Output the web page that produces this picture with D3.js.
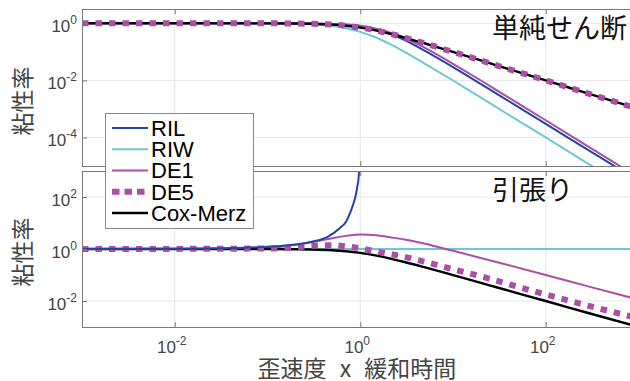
<!DOCTYPE html>
<html><head><meta charset="utf-8">
<script src="https://cdn.jsdelivr.net/npm/d3@7"></script>
<style>body{margin:0;background:#fff}svg{display:block}</style>
</head><body><svg id="c" width="630" height="381"></svg>
<script>
// ---- data ----
const rates = [0.001, 0.01, 0.1, 0.2, 0.3, 0.5, 0.7, 1, 1.5, 2, 3, 5, 10, 20, 30, 100, 300, 850];
// simple shear (top panel)
const shearRIL   = [1, 1, 0.997, 0.99, 0.975, 0.94, 0.89, 0.8, 0.6, 0.45, 0.26, 0.108, 0.029, 0.0074, 0.0033, 0.0003, 0.000033, 0.0000042];
const shearRIW   = [1, 1, 0.99, 0.96, 0.917, 0.8, 0.67, 0.5, 0.31, 0.2, 0.1, 0.038, 0.0099, 0.0025, 0.0011, 0.0001, 0.000011, 0.0000014];
const shearDE1   = [1, 1, 0.998, 0.99, 0.98, 0.95, 0.9, 0.82, 0.64, 0.5, 0.31, 0.138, 0.038, 0.0099, 0.0044, 0.0004, 0.000044, 0.0000055];
const shearDE5   = [1, 1, 0.995, 0.98, 0.958, 0.894, 0.82, 0.707, 0.555, 0.447, 0.316, 0.196, 0.0995, 0.05, 0.033, 0.01, 0.0033, 0.00118];
const shearCoxMerz = [1, 1, 0.995, 0.98, 0.958, 0.894, 0.82, 0.707, 0.555, 0.447, 0.316, 0.196, 0.0995, 0.05, 0.033, 0.01, 0.0033, 0.00118];
// extension (bottom panel)
const rilRates   = [0.001, 0.01, 0.05, 0.1, 0.2, 0.3, 0.45, 0.6, 0.7, 0.78, 0.85, 0.9, 0.93, 0.96, 0.98];
const extRIL     = [1, 1.02, 1.1, 1.22, 1.5, 1.9, 3.0, 6.3, 11, 25, 60, 130, 250, 550, 2000];
const extRIW     = [1, 1, 1, 1, 1, 1, 1, 1, 1, 1, 1, 1, 1, 1, 1, 1, 1, 1];
const extDE1     = [1, 1.005, 1.12, 1.45, 1.8, 2.6, 3.2, 3.63, 3.4, 2.9, 2.3, 1.6, 0.85, 0.45, 0.31, 0.1, 0.035, 0.0132];
const extDE5     = [1, 1.01, 1.05, 1.15, 1.32, 1.4, 1.26, 1.07, 0.8, 0.66, 0.5, 0.32, 0.166, 0.089, 0.059, 0.0178, 0.0063, 0.0025];
const extCoxMerz = [1, 1, 0.995, 0.98, 0.958, 0.894, 0.82, 0.707, 0.555, 0.447, 0.316, 0.196, 0.0995, 0.05, 0.033, 0.01, 0.0033, 0.00118];

const seriesNames = ["RIL", "RIW", "DE1", "DE5", "Cox-Merz"];
const xTicks = [1e-2, 1, 1e2];
const xTickExp = ["-2", "0", "2"];
const yTopTicks = [1e-4, 1e-2, 1];
const yTopExp = ["-4", "-2", "0"];
const yBotTicks = [1e-2, 1, 1e2];
const yBotExp = ["-2", "0", "2"];
const panelTitles = ["単純せん断", "引張り"];
const yLabel = "粘性率";
const xLabel = "歪速度 x 緩和時間";

// ---- styles ----
const styles = {
  "RIL": {color: "#2443a3", width: 2, dash: null},
  "RIW": {color: "#6cc8d6", width: 2, dash: null},
  "DE1": {color: "#a950a6", width: 2, dash: null},
  "DE5": {color: "#a950a6", width: 6, dash: "6.5,7"},
  "Cox-Merz": {color: "#000000", width: 2.4, dash: null}
};
const axisColor = "#7a7a7a", gridColor = "#e6e6e6", textColor = "#444";
const tickFont = "'Liberation Sans', Arial, sans-serif";
const cjkFont = "'Noto Sans CJK JP', sans-serif";

const svg = d3.select("#c");
const x = d3.scaleLog().domain([1e-3, Math.pow(10, 2.93)]).range([82, 632]);
const yTop = d3.scaleLog().domain([1e-5, Math.pow(10, 0.5)]).range([166, 9]);
const yBot = d3.scaleLog().domain([1e-3, 1e3]).range([327, 171]);

function panel(id, y, yTicks, yExp, curves, title, titleY, labelY) {
  const [x0, x1] = x.range();
  const [yb, yt] = y.range();
  const g = svg.append("g");
  svg.append("clipPath").attr("id", id).append("rect")
    .attr("x", x0).attr("y", yt).attr("width", x1 - x0).attr("height", yb - yt);
  // grid
  g.selectAll(".gx").data(xTicks).join("line")
    .attr("x1", d => x(d)).attr("x2", d => x(d)).attr("y1", yt).attr("y2", yb)
    .attr("stroke", gridColor).attr("stroke-width", 1);
  g.selectAll(".gy").data(yTicks).join("line")
    .attr("y1", d => y(d)).attr("y2", d => y(d)).attr("x1", x0).attr("x2", x1)
    .attr("stroke", gridColor).attr("stroke-width", 1);
  // curves
  const cg = g.append("g").attr("clip-path", `url(#${id})`);
  curves.forEach(c => {
    const st = styles[c.name];
    const line = d3.line().x(d => x(d[0])).y(d => y(d[1])).curve(d3.curveMonotoneX);
    const pts = c.xs.map((v, i) => [v, c.ys[i]]);
    cg.append("path").attr("d", line(pts)).attr("fill", "none")
      .attr("stroke", st.color).attr("stroke-width", st.width)
      .attr("stroke-dasharray", st.dash).attr("stroke-linejoin", "round");
  });
  // axes (ticks inside)
  const ax = g.append("g").attr("transform", `translate(0,${yb})`)
    .call(d3.axisBottom(x).tickValues(xTicks).tickSizeInner(-5).tickSizeOuter(0).tickFormat(""));
  const axt = g.append("g").attr("transform", `translate(0,${yt})`)
    .call(d3.axisTop(x).tickValues(xTicks).tickSizeInner(-5).tickSizeOuter(0).tickFormat(""));
  const ay = g.append("g").attr("transform", `translate(${x0},0)`)
    .call(d3.axisLeft(y).tickValues(yTicks).tickSizeInner(-5).tickSizeOuter(0).tickFormat(""));
  [ax, axt, ay].forEach(a => { a.selectAll("path,line").attr("stroke", axisColor); a.select(".domain").remove(); });
  g.append("rect").attr("x", x0 + 0.5).attr("y", yt + 0.5).attr("width", x1 - x0).attr("height", yb - yt)
    .attr("fill", "none").attr("stroke", axisColor).attr("stroke-width", 1);
  // y tick labels
  yTicks.forEach((t, i) => {
    const tx = g.append("text").attr("x", 77).attr("y", y(t) + 9)
      .attr("text-anchor", "end").attr("fill", textColor)
      .attr("font-family", tickFont).attr("font-size", 17);
    tx.append("tspan").text("10");
    tx.append("tspan").attr("dy", -8).attr("font-size", 12).text(yExp[i]);
  });
  // y label
  g.append("text").attr("transform", `translate(31,${labelY}) rotate(-90)`)
    .attr("text-anchor", "middle").attr("fill", textColor)
    .attr("font-family", cjkFont).attr("font-size", 23).text(yLabel);
  // title
  g.append("text").attr("x", 492).attr("y", titleY).attr("fill", "#111")
    .attr("font-family", cjkFont).attr("font-size", 27).text(title);
}

panel("clipTop", yTop, yTopTicks, yTopExp, [
  {name: "RIL", xs: rates, ys: shearRIL},
  {name: "RIW", xs: rates, ys: shearRIW},
  {name: "DE1", xs: rates, ys: shearDE1},
  {name: "Cox-Merz", xs: rates, ys: shearCoxMerz},
  {name: "DE5", xs: rates, ys: shearDE5}
], panelTitles[0], 38, 101);

panel("clipBot", yBot, yBotTicks, yBotExp, [
  {name: "RIW", xs: rates, ys: extRIW},
  {name: "DE1", xs: rates, ys: extDE1},
  {name: "Cox-Merz", xs: rates, ys: extCoxMerz},
  {name: "DE5", xs: rates, ys: extDE5},
  {name: "RIL", xs: rilRates, ys: extRIL}
], panelTitles[1], 200, 252);

// x tick labels
xTicks.forEach((t, i) => {
  const tx = svg.append("text").attr("x", x(t) - 3).attr("y", 353)
    .attr("text-anchor", "middle").attr("fill", textColor)
    .attr("font-family", tickFont).attr("font-size", 17);
  tx.append("tspan").text("10");
  tx.append("tspan").attr("dy", -8).attr("font-size", 12).text(xTickExp[i]);
});
// x label
svg.append("text").attr("x", 357).attr("y", 377).attr("text-anchor", "middle")
  .attr("fill", textColor).attr("font-family", cjkFont).attr("font-size", 23)
  .style("word-spacing", "8px").text(xLabel);

// legend
const lg = svg.append("g");
lg.append("rect").attr("x", 105.5).attr("y", 113.5).attr("width", 148).attr("height", 115)
  .attr("fill", "#fff").attr("stroke", "#8a8a8a").attr("stroke-width", 1);
const legY = d3.scalePoint().domain(seriesNames).range([128, 213]);
seriesNames.forEach(n => {
  const st = styles[n];
  lg.append("line").attr("x1", 112).attr("x2", 148).attr("y1", legY(n)).attr("y2", legY(n))
    .attr("stroke", st.color).attr("stroke-width", n === "DE5" ? 6 : st.width)
    .attr("stroke-dasharray", n === "DE5" ? "7.5,5" : null);
  lg.append("text").attr("x", 151).attr("y", legY(n)).attr("dy", "0.36em")
    .attr("font-family", tickFont).attr("font-size", 22).attr("fill", "#000").text(n);
});
</script></body></html>
